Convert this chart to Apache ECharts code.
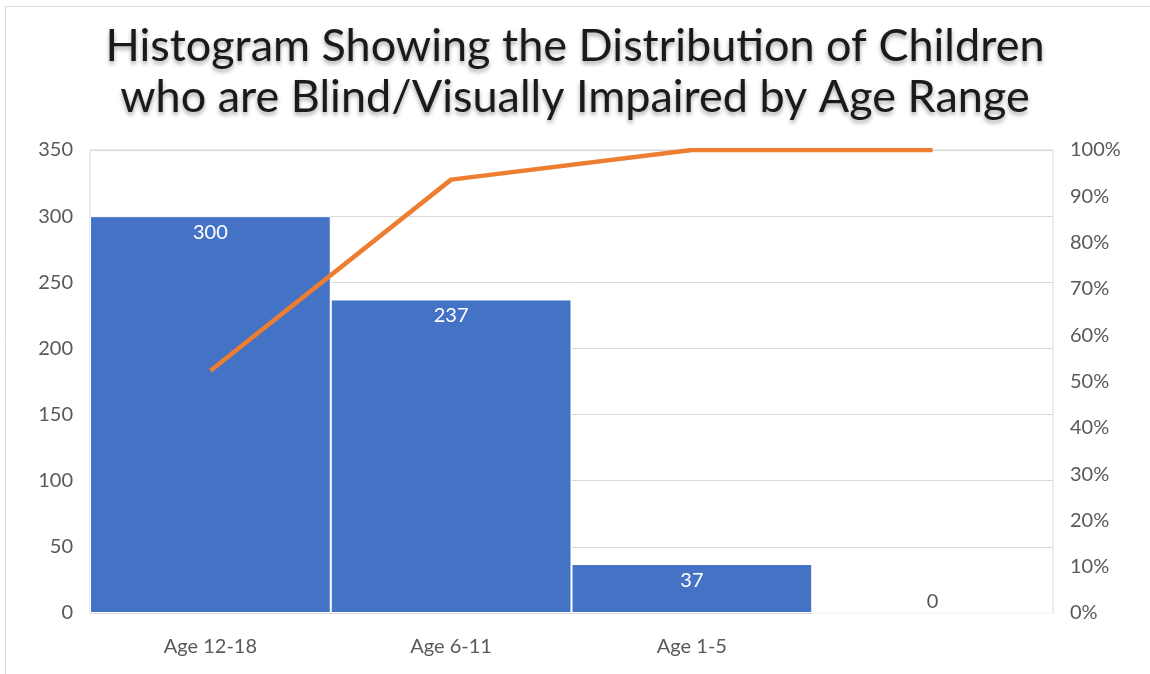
<!DOCTYPE html>
<html>
<head>
<meta charset="utf-8">
<script src="https://cdn.jsdelivr.net/npm/echarts@6/dist/echarts.min.js"></script>
<style>
  html, body { margin: 0; padding: 0; background: #fff; }
  #chart { width: 1150px; height: 674px; }
</style>
</head>
<body>
<div id="chart"></div>
<script>
// chart data
var categories = ["Age 12-18", "Age 6-11", "Age 1-5", ""];
var counts = [300, 237, 37, 0];
var cumulativePct = [52.3, 93.6, 100, 100];
var leftTicks = { min: 0, max: 350, step: 50 };
var rightTicks = { min: 0, max: 100, step: 10 };

var labelGray = "#595959";
var font = "Lato";

var myChart = echarts.init(document.getElementById("chart"));

// zero bar gets its label above the axis, like Excel does
var barData = counts.map(function (v) {
    if (v === 0) {
        return { value: v, label: { position: "top", color: labelGray, distance: 1 } };
    }
    return v;
});

var option = {
    backgroundColor: "#fff",
    animation: false,
    graphic: [{
        type: "rect",
        left: 3, top: 4,
        shape: { width: 1300, height: 800 },
        style: { fill: "none", stroke: "#D9D9D9", lineWidth: 1 },
        silent: true
    }],
    title: {
        text: "Histogram Showing the Distribution of Children\nwho are Blind/Visually Impaired by Age Range",
        left: "center",
        top: 16,
        textStyle: {
            fontFamily: font,
            fontWeight: "normal",
            fontSize: 45,
            lineHeight: 51,
            color: "#1a1a1a",
            textShadowColor: "rgba(0,0,0,0.35)",
            textShadowBlur: 4,
            textShadowOffsetY: 3
        }
    },
    grid: {
        left: 90, right: 97, top: 150, bottom: 61,
        show: true,
        borderColor: "#D9D9D9",
        borderWidth: 1,
        containLabel: false
    },
    xAxis: {
        type: "category",
        data: categories,
        axisLine: { lineStyle: { color: "#D9D9D9" } },
        axisTick: { show: false },
        axisLabel: { color: labelGray, fontFamily: font, fontSize: 20, margin: 24 }
    },
    yAxis: [{
        type: "value",
        min: leftTicks.min, max: leftTicks.max, interval: leftTicks.step,
        axisLine: { show: false },
        axisTick: { show: false },
        splitLine: { lineStyle: { color: "#D9D9D9", width: 1 } },
        axisLabel: { color: labelGray, fontFamily: font, fontSize: 20, margin: 17 }
    }, {
        type: "value",
        min: rightTicks.min, max: rightTicks.max, interval: rightTicks.step,
        position: "right",
        axisLine: { show: false },
        axisTick: { show: false },
        splitLine: { show: false },
        axisLabel: {
            color: labelGray, fontFamily: font, fontSize: 20, margin: 17,
            formatter: function (v) { return v + "%"; }
        }
    }],
    series: [{
        type: "bar",
        data: barData,
        barWidth: "100%",
        barGap: "0%",
        itemStyle: { color: "#4472C4", borderColor: "#fff", borderWidth: 1 },
        label: {
            show: true,
            position: "insideTop",
            distance: 6,
            color: "#fff",
            fontFamily: font,
            fontSize: 20
        }
    }, {
        type: "line",
        yAxisIndex: 1,
        data: cumulativePct,
        showSymbol: false,
        symbol: "none",
        lineStyle: { color: "#ED7D31", width: 4.5 },
        z: 5
    }]
};

option && myChart.setOption(option);
</script>
</body>
</html>
